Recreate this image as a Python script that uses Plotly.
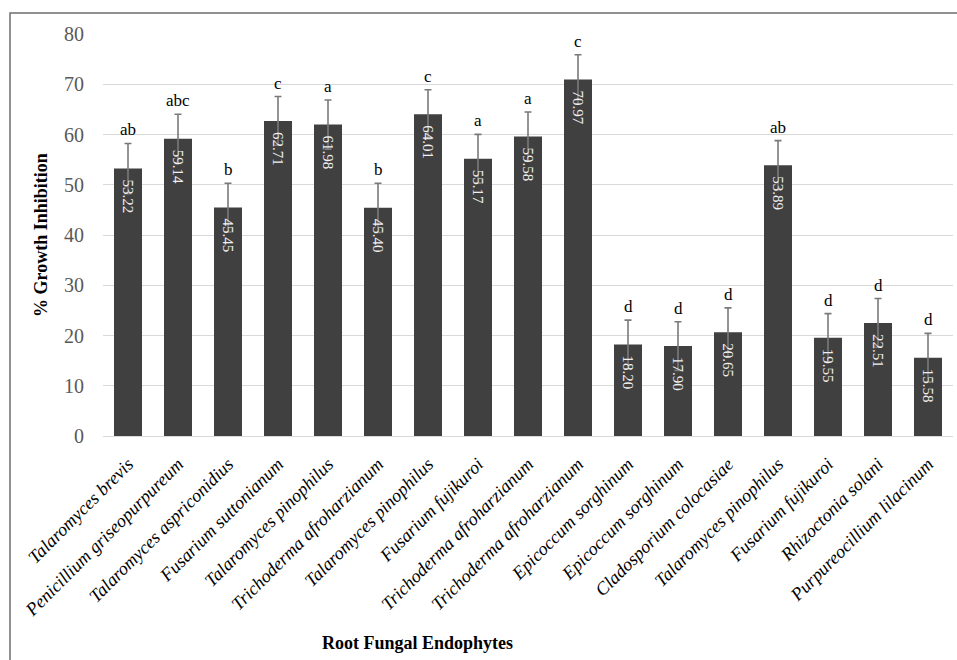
import plotly.graph_objects as go

# Endophyte isolates (x categories)
isolates = [
    "Talaromyces brevis", "Penicillium griseopurpureum", "Talaromyces aspriconidius",
    "Fusarium suttonianum", "Talaromyces pinophilus", "Trichoderma afroharzianum",
    "Talaromyces pinophilus", "Fusarium fujikuroi", "Trichoderma afroharzianum",
    "Trichoderma afroharzianum", "Epicoccum sorghinum", "Epicoccum sorghinum",
    "Cladosporium colocasiae", "Talaromyces pinophilus", "Fusarium fujikuroi",
    "Rhizoctonia solani", "Purpureocillium lilacinum",
]
# Mean % growth inhibition
inhibition = [53.22, 59.14, 45.45, 62.71, 61.98, 45.40, 64.01, 55.17, 59.58,
              70.97, 18.20, 17.90, 20.65, 53.89, 19.55, 22.51, 15.58]
# Error (whisker length)
errors = [5.0, 4.9, 4.85, 4.85, 4.9, 4.9, 4.9, 4.85, 4.9,
          4.9, 4.85, 4.85, 4.85, 4.9, 4.8, 4.85, 4.85]
# Significance letters
letters = ["ab", "abc", "b", "c", "a", "b", "c", "a", "a",
           "c", "d", "d", "d", "ab", "d", "d", "d"]

idx = list(range(len(isolates)))
serif = "Liberation Serif"

fig = go.Figure()
fig.add_trace(go.Bar(
    x=idx,
    y=inhibition,
    width=0.56,
    marker=dict(color="#404040", line=dict(width=0)),
    error_y=dict(type="data", array=errors, visible=True,
                 color="#7a7a7a", thickness=1.6, width=3.5),
    hoverinfo="skip",
))

# Value labels inside the bars, reading downward from the top
for i, v in enumerate(inhibition):
    fig.add_annotation(
        x=i, y=v, text=f"{v:.2f}", showarrow=False, textangle=90,
        xanchor="center", yanchor="top", yshift=-9,
        font=dict(family=serif, size=15, color="#f0f0f0"),
    )

# Letters above the error bars
for i, (v, e, lab) in enumerate(zip(inhibition, errors, letters)):
    fig.add_annotation(
        x=i, y=v + e, text=lab, showarrow=False,
        xanchor="center", yanchor="bottom", yshift=2,
        font=dict(family=serif, size=17, color="#000000"),
    )

# Axis titles
fig.add_annotation(
    x=-0.073, y=0.5, xref="paper", yref="paper",
    text="<b>% Growth Inhibition</b>", showarrow=False, textangle=-90,
    xanchor="center", yanchor="middle",
    font=dict(family=serif, size=18, color="#000000"),
)
fig.add_annotation(
    x=0.37, y=-0.515, xref="paper", yref="paper",
    text="<b>Root Fungal Endophytes</b>", showarrow=False,
    xanchor="center", yanchor="middle",
    font=dict(family=serif, size=18, color="#000000"),
)

# Outer frame of the chart area
fig.add_shape(
    type="rect", xref="paper", yref="paper",
    x0=-0.1094, x1=1.2, y0=-0.7, y1=1.0522,
    line=dict(color="#6e6e6e", width=1.5), layer="below",
)

fig.update_layout(
    width=957, height=660,
    margin=dict(l=103, r=4, t=34, b=224),
    paper_bgcolor="white", plot_bgcolor="white",
    showlegend=False,
    font=dict(family=serif),
    xaxis=dict(
        tickmode="array", tickvals=idx,
        ticktext=[f"<i>{n}</i>" for n in isolates],
        tickangle=-45,
        tickfont=dict(family=serif, size=18.2, color="#000000"),
        range=[-0.5, len(isolates) - 0.5],
        showgrid=False, zeroline=False, showline=False, ticks="",
        ticklabelstandoff=13,
    ),
    yaxis=dict(
        range=[0, 80], dtick=10,
        tickfont=dict(family=serif, size=20, color="#595959"),
        showgrid=True, gridcolor="#d9d9d9", gridwidth=1.2,
        zeroline=True, zerolinecolor="#d9d9d9", zerolinewidth=1.2,
        showline=False, ticks="", ticklabelstandoff=18,
    ),
)

fig.write_html("out.html")
